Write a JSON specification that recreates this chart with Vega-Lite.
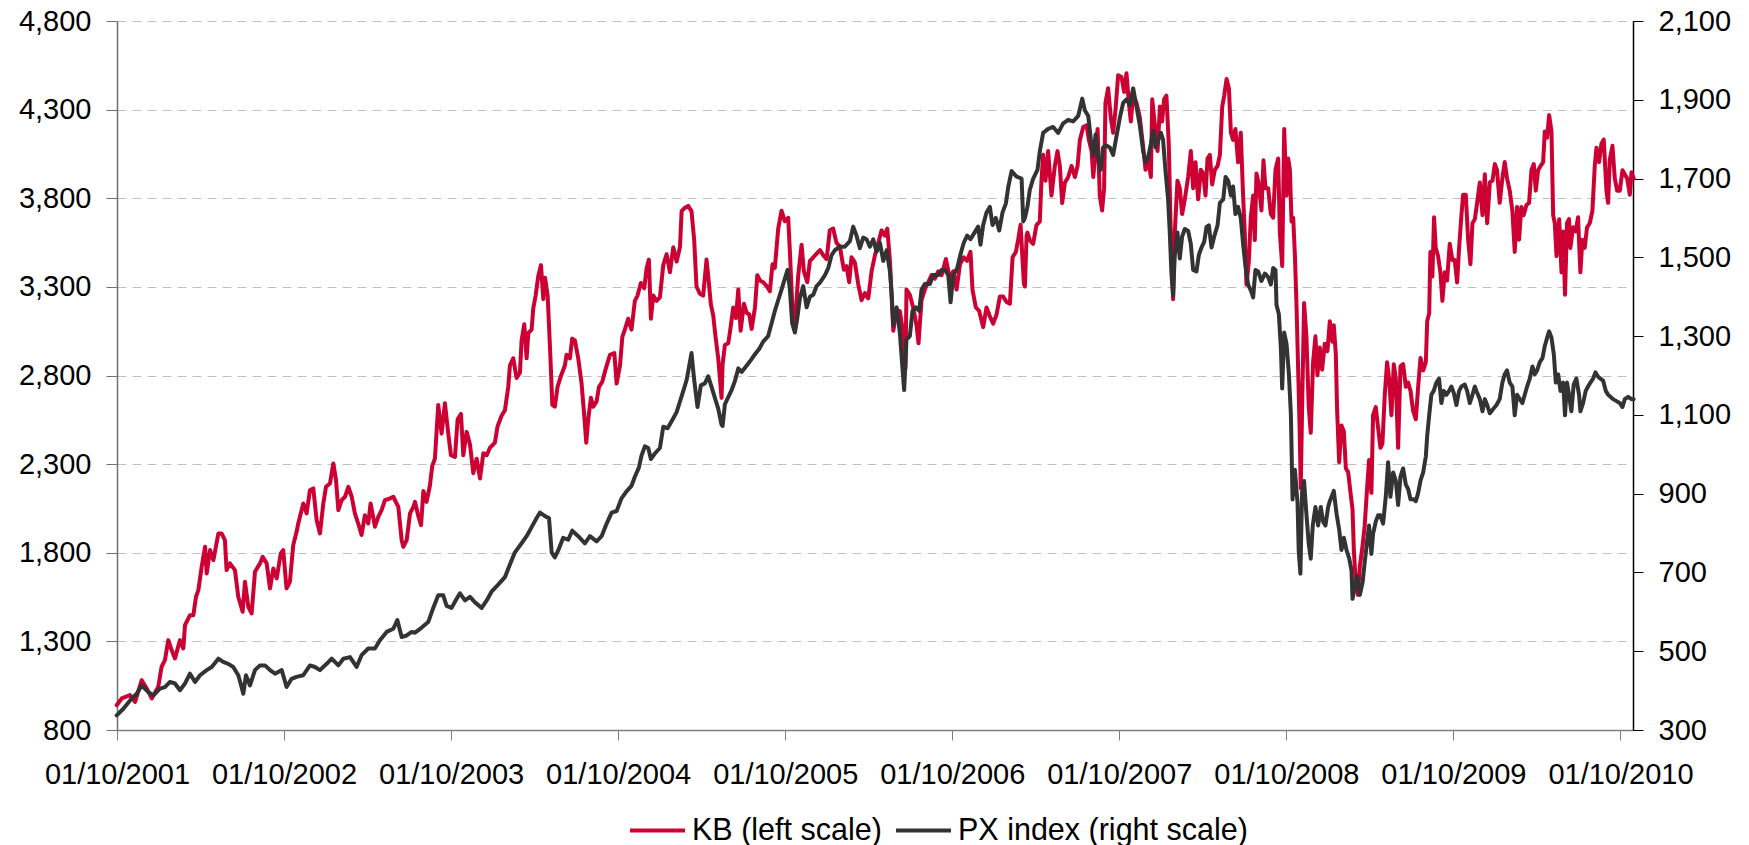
{
 "$schema": "https://vega.github.io/schema/vega-lite/v6.json",
 "width": 1516,
 "height": 709,
 "autosize": {"type": "none"},
 "padding": {"left": 117, "top": 21, "right": 116, "bottom": 115},
 "background": "white",
 "config": {
  "view": {"stroke": null},
  "font": "Liberation Sans",
  "axis": {"labelFont": "Liberation Sans", "labelColor": "#000000", "labelFontSize": 29},
  "legend": {"labelFont": "Liberation Sans", "labelColor": "#000000"}
 },
 "datasets": {
  "kb": [
   {"year":2001.748,"kb":940},{"year":2001.778,"kb":978},{"year":2001.828,"kb":997},{"year":2001.858,"kb":959},{"year":2001.898,"kb":1081},{"year":2001.928,"kb":1034},{"year":2001.958,"kb":978},{"year":2001.997,"kb":1044},{"year":2002.017,"kb":1157},{"year":2002.037,"kb":1194},{"year":2002.057,"kb":1307},{"year":2002.077,"kb":1251},{"year":2002.097,"kb":1204},{"year":2002.127,"kb":1307},{"year":2002.147,"kb":1260},{"year":2002.157,"kb":1392},{"year":2002.187,"kb":1448},{"year":2002.207,"kb":1448},{"year":2002.223,"kb":1552},{"year":2002.237,"kb":1589},{"year":2002.257,"kb":1721},{"year":2002.277,"kb":1834},{"year":2002.287,"kb":1683},{"year":2002.307,"kb":1815},{"year":2002.327,"kb":1758},{"year":2002.357,"kb":1909},{"year":2002.376,"kb":1909},{"year":2002.396,"kb":1871},{"year":2002.406,"kb":1702},{"year":2002.426,"kb":1740},{"year":2002.456,"kb":1702},{"year":2002.476,"kb":1552},{"year":2002.502,"kb":1467},{"year":2002.516,"kb":1636},{"year":2002.536,"kb":1495},{"year":2002.556,"kb":1458},{"year":2002.576,"kb":1693},{"year":2002.606,"kb":1740},{"year":2002.622,"kb":1777},{"year":2002.646,"kb":1740},{"year":2002.666,"kb":1599},{"year":2002.686,"kb":1711},{"year":2002.706,"kb":1655},{"year":2002.730,"kb":1796},{"year":2002.745,"kb":1815},{"year":2002.765,"kb":1599},{"year":2002.785,"kb":1636},{"year":2002.805,"kb":1843},{"year":2002.825,"kb":1918},{"year":2002.835,"kb":1965},{"year":2002.865,"kb":2078},{"year":2002.885,"kb":2022},{"year":2002.905,"kb":2153},{"year":2002.925,"kb":2163},{"year":2002.945,"kb":1984},{"year":2002.965,"kb":1909},{"year":2002.985,"kb":2078},{"year":2003.001,"kb":2172},{"year":2003.025,"kb":2191},{"year":2003.045,"kb":2304},{"year":2003.061,"kb":2210},{"year":2003.075,"kb":2041},{"year":2003.095,"kb":2097},{"year":2003.115,"kb":2116},{"year":2003.135,"kb":2172},{"year":2003.155,"kb":2116},{"year":2003.174,"kb":2022},{"year":2003.194,"kb":1965},{"year":2003.214,"kb":1900},{"year":2003.234,"kb":2012},{"year":2003.254,"kb":1965},{"year":2003.268,"kb":2078},{"year":2003.294,"kb":1947},{"year":2003.314,"kb":2003},{"year":2003.334,"kb":2041},{"year":2003.354,"kb":2097},{"year":2003.384,"kb":2106},{"year":2003.404,"kb":2116},{"year":2003.434,"kb":2059},{"year":2003.454,"kb":1871},{"year":2003.464,"kb":1834},{"year":2003.484,"kb":1871},{"year":2003.504,"kb":2022},{"year":2003.524,"kb":2059},
   {"year":2003.534,"kb":2087},{"year":2003.554,"kb":2006},{"year":2003.570,"kb":1956},{"year":2003.584,"kb":2148},{"year":2003.603,"kb":2087},{"year":2003.623,"kb":2178},{"year":2003.637,"kb":2290},{"year":2003.653,"kb":2330},{"year":2003.673,"kb":2634},{"year":2003.693,"kb":2472},{"year":2003.713,"kb":2644},{"year":2003.733,"kb":2472},{"year":2003.749,"kb":2350},{"year":2003.773,"kb":2340},{"year":2003.789,"kb":2553},{"year":2003.809,"kb":2583},{"year":2003.823,"kb":2350},{"year":2003.843,"kb":2482},{"year":2003.863,"kb":2411},{"year":2003.883,"kb":2249},{"year":2003.903,"kb":2330},{"year":2003.923,"kb":2219},{"year":2003.943,"kb":2361},{"year":2003.963,"kb":2350},{"year":2003.982,"kb":2391},{"year":2004.012,"kb":2421},{"year":2004.028,"kb":2512},{"year":2004.052,"kb":2573},{"year":2004.072,"kb":2603},{"year":2004.092,"kb":2735},{"year":2004.102,"kb":2856},{"year":2004.122,"kb":2897},{"year":2004.142,"kb":2786},{"year":2004.162,"kb":2816},{"year":2004.172,"kb":2998},{"year":2004.188,"kb":3089},{"year":2004.202,"kb":2897},{"year":2004.212,"kb":3039},{"year":2004.232,"kb":3059},{"year":2004.242,"kb":3180},{"year":2004.256,"kb":3251},{"year":2004.272,"kb":3362},{"year":2004.288,"kb":3423},{"year":2004.302,"kb":3231},{"year":2004.312,"kb":3352},{"year":2004.328,"kb":3251},{"year":2004.342,"kb":2958},{"year":2004.356,"kb":2634},{"year":2004.371,"kb":2624},{"year":2004.387,"kb":2735},{"year":2004.407,"kb":2796},{"year":2004.431,"kb":2856},{"year":2004.441,"kb":2917},{"year":2004.461,"kb":2897},{"year":2004.475,"kb":3008},{"year":2004.491,"kb":2998},{"year":2004.511,"kb":2897},{"year":2004.531,"kb":2755},{"year":2004.547,"kb":2573},{"year":2004.559,"kb":2421},{"year":2004.571,"kb":2553},{"year":2004.587,"kb":2674},{"year":2004.601,"kb":2624},{"year":2004.621,"kb":2654},{"year":2004.635,"kb":2735},{"year":2004.655,"kb":2765},{"year":2004.675,"kb":2836},{"year":2004.701,"kb":2917},{"year":2004.727,"kb":2927},{"year":2004.741,"kb":2755},{"year":2004.761,"kb":2856},{"year":2004.775,"kb":3018},{"year":2004.790,"kb":3059},{"year":2004.810,"kb":3120},{"year":2004.830,"kb":3059},{"year":2004.850,"kb":3221},{"year":2004.866,"kb":3251},{"year":2004.886,"kb":3322},{"year":2004.906,"kb":3292},{"year":2004.920,"kb":3403},{"year":2004.934,"kb":3454},{"year":2004.946,"kb":3120},{"year":2004.960,"kb":3251},{"year":2004.980,"kb":3221},{"year":2005.000,"kb":3241},{"year":2005.020,"kb":3423},{"year":2005.040,"kb":3484},{"year":2005.060,"kb":3383},{"year":2005.080,"kb":3524},{"year":2005.100,"kb":3443},{"year":2005.120,"kb":3524},{"year":2005.130,"kb":3727},{"year":2005.150,"kb":3747},{"year":2005.169,"kb":3757},{"year":2005.189,"kb":3727},{"year":2005.205,"kb":3565},{"year":2005.219,"kb":3302},{"year":2005.239,"kb":3261},{"year":2005.259,"kb":3251},{"year":2005.279,"kb":3454},{"year":2005.289,"kb":3362},{"year":2005.305,"kb":3201},{"year":2005.319,"kb":3140},{"year":2005.333,"kb":3018},{"year":2005.349,"kb":2897},{"year":2005.369,"kb":2674},
   {"year":2005.375,"kb":2861},{"year":2005.389,"kb":2972},{"year":2005.409,"kb":2982},{"year":2005.419,"kb":3043},{"year":2005.439,"kb":3184},{"year":2005.455,"kb":3124},{"year":2005.469,"kb":3285},{"year":2005.483,"kb":3053},{"year":2005.503,"kb":3205},{"year":2005.519,"kb":3154},{"year":2005.535,"kb":3144},{"year":2005.549,"kb":3063},{"year":2005.569,"kb":3184},{"year":2005.583,"kb":3366},{"year":2005.599,"kb":3336},{"year":2005.618,"kb":3326},{"year":2005.638,"kb":3306},{"year":2005.658,"kb":3275},{"year":2005.674,"kb":3427},{"year":2005.688,"kb":3407},{"year":2005.708,"kb":3629},{"year":2005.728,"kb":3730},{"year":2005.748,"kb":3670},{"year":2005.768,"kb":3690},{"year":2005.778,"kb":3498},{"year":2005.794,"kb":3164},{"year":2005.808,"kb":3083},{"year":2005.828,"kb":3366},{"year":2005.848,"kb":3538},{"year":2005.862,"kb":3387},{"year":2005.882,"kb":3326},{"year":2005.898,"kb":3447},{"year":2005.918,"kb":3467},{"year":2005.938,"kb":3488},{"year":2005.958,"kb":3508},{"year":2005.978,"kb":3478},{"year":2005.998,"kb":3457},{"year":2006.017,"kb":3619},{"year":2006.037,"kb":3629},{"year":2006.057,"kb":3548},{"year":2006.077,"kb":3528},{"year":2006.101,"kb":3397},{"year":2006.117,"kb":3417},{"year":2006.133,"kb":3326},{"year":2006.147,"kb":3467},{"year":2006.167,"kb":3437},{"year":2006.187,"kb":3316},{"year":2006.207,"kb":3225},{"year":2006.227,"kb":3265},{"year":2006.247,"kb":3235},{"year":2006.267,"kb":3387},{"year":2006.287,"kb":3478},{"year":2006.307,"kb":3548},{"year":2006.327,"kb":3619},{"year":2006.347,"kb":3589},{"year":2006.361,"kb":3629},{"year":2006.377,"kb":3447},{"year":2006.387,"kb":3245},{"year":2006.397,"kb":3053},{"year":2006.417,"kb":3164},{"year":2006.436,"kb":3164},{"year":2006.456,"kb":3043},{"year":2006.470,"kb":2840},{"year":2006.476,"kb":3285},{"year":2006.496,"kb":3255},{"year":2006.516,"kb":3184},{"year":2006.536,"kb":3083},{"year":2006.548,"kb":2982},{"year":2006.566,"kb":3225},{"year":2006.586,"kb":3285},{"year":2006.606,"kb":3326},{"year":2006.626,"kb":3366},{"year":2006.646,"kb":3346},{"year":2006.666,"kb":3387},{"year":2006.686,"kb":3366},{"year":2006.712,"kb":3457},{"year":2006.736,"kb":3346},{"year":2006.756,"kb":3387},{"year":2006.776,"kb":3285},{"year":2006.796,"kb":3427},{"year":2006.819,"kb":3467},{"year":2006.839,"kb":3447},{"year":2006.859,"kb":3498},{"year":2006.871,"kb":3285},{"year":2006.891,"kb":3184},{"year":2006.911,"kb":3164},{"year":2006.935,"kb":3073},{"year":2006.955,"kb":3184},{"year":2006.975,"kb":3134},{"year":2006.995,"kb":3093},{"year":2007.015,"kb":3144},{"year":2007.035,"kb":3245},{"year":2007.055,"kb":3245},{"year":2007.075,"kb":3215},{"year":2007.095,"kb":3205},{"year":2007.111,"kb":3467},{"year":2007.131,"kb":3498},{"year":2007.145,"kb":3569},{"year":2007.159,"kb":3650},{"year":2007.171,"kb":3447},{"year":2007.179,"kb":3316},{"year":2007.185,"kb":3303},{"year":2007.195,"kb":3589},
   {"year":2007.200,"kb":3606},{"year":2007.214,"kb":3564},{"year":2007.234,"kb":3543},{"year":2007.254,"kb":3648},{"year":2007.274,"kb":3669},{"year":2007.284,"kb":3899},{"year":2007.294,"kb":4045},{"year":2007.308,"kb":3899},{"year":2007.324,"kb":4066},{"year":2007.344,"kb":3815},{"year":2007.364,"kb":3982},{"year":2007.380,"kb":4066},{"year":2007.394,"kb":3982},{"year":2007.408,"kb":3773},{"year":2007.424,"kb":3888},{"year":2007.444,"kb":3920},{"year":2007.464,"kb":3982},{"year":2007.484,"kb":3920},{"year":2007.500,"kb":3982},{"year":2007.514,"kb":4129},{"year":2007.534,"kb":4202},{"year":2007.554,"kb":4212},{"year":2007.568,"kb":4129},{"year":2007.584,"kb":4066},{"year":2007.594,"kb":3920},{"year":2007.608,"kb":4066},{"year":2007.620,"kb":4191},{"year":2007.633,"kb":3815},{"year":2007.647,"kb":3731},{"year":2007.659,"kb":3857},{"year":2007.667,"kb":4338},{"year":2007.683,"kb":4421},{"year":2007.699,"kb":4254},{"year":2007.713,"kb":4170},{"year":2007.727,"kb":4296},{"year":2007.743,"kb":4494},{"year":2007.763,"kb":4484},{"year":2007.779,"kb":4400},{"year":2007.793,"kb":4505},{"year":2007.807,"kb":4338},{"year":2007.819,"kb":4233},{"year":2007.833,"kb":4379},{"year":2007.853,"kb":4338},{"year":2007.873,"kb":4254},{"year":2007.893,"kb":4087},{"year":2007.907,"kb":3961},{"year":2007.923,"kb":4024},{"year":2007.939,"kb":3920},{"year":2007.947,"kb":4358},{"year":2007.963,"kb":4212},{"year":2007.979,"kb":4066},{"year":2007.993,"kb":4317},{"year":2008.006,"kb":4233},{"year":2008.018,"kb":4358},{"year":2008.032,"kb":4379},{"year":2008.046,"kb":4108},{"year":2008.058,"kb":3606},{"year":2008.072,"kb":3230},{"year":2008.082,"kb":3606},{"year":2008.098,"kb":3899},{"year":2008.112,"kb":3857},{"year":2008.126,"kb":3711},{"year":2008.142,"kb":3794},{"year":2008.162,"kb":3920},{"year":2008.178,"kb":4066},{"year":2008.192,"kb":3857},{"year":2008.206,"kb":4003},{"year":2008.222,"kb":3794},{"year":2008.238,"kb":3961},{"year":2008.252,"kb":3940},{"year":2008.266,"kb":3815},{"year":2008.278,"kb":4024},{"year":2008.292,"kb":4045},{"year":2008.306,"kb":3878},{"year":2008.322,"kb":3961},{"year":2008.338,"kb":3982},{"year":2008.352,"kb":4045},{"year":2008.366,"kb":4317},{"year":2008.378,"kb":4379},{"year":2008.392,"kb":4473},{"year":2008.406,"kb":4421},{"year":2008.418,"kb":4170},{"year":2008.431,"kb":4129},{"year":2008.445,"kb":4191},{"year":2008.461,"kb":4003},{"year":2008.477,"kb":4170},{"year":2008.491,"kb":3815},{"year":2008.501,"kb":3606},{"year":2008.511,"kb":3313},{"year":2008.525,"kb":3439},{"year":2008.537,"kb":3690},{"year":2008.551,"kb":3815},{"year":2008.561,"kb":3564},{"year":2008.571,"kb":3940},{"year":2008.585,"kb":3878},{"year":2008.601,"kb":3731},{"year":2008.613,"kb":4014},{"year":2008.625,"kb":3857},{"year":2008.641,"kb":3857},{"year":2008.657,"kb":3711},{"year":2008.671,"kb":3690},{"year":2008.685,"kb":3961},{"year":2008.701,"kb":4024},{"year":2008.711,"kb":3606},{"year":2008.725,"kb":3418},{"year":2008.737,"kb":4191},{"year":2008.751,"kb":3815},{"year":2008.761,"kb":4024},{"year":2008.771,"kb":3961},{"year":2008.781,"kb":3669},{"year":2008.791,"kb":3690},{"year":2008.801,"kb":3481},{"year":2008.811,"kb":3188},{"year":2008.820,"kb":2854},{"year":2008.830,"kb":2477},{"year":2008.836,"kb":2164},{"year":2008.844,"kb":2603},{"year":2008.856,"kb":3209},{"year":2008.870,"kb":3021},{"year":2008.884,"kb":2624},{"year":2008.896,"kb":2477},{"year":2008.910,"kb":2875},{"year":2008.924,"kb":3021},{"year":2008.936,"kb":2801},{"year":2008.950,"kb":2958},{"year":2008.964,"kb":2833},{"year":2008.980,"kb":2979},{"year":2008.996,"kb":2937},
   {"year":2009.010,"kb":3106},{"year":2009.026,"kb":2991},{"year":2009.034,"kb":3083},{"year":2009.046,"kb":2922},{"year":2009.054,"kb":2599},{"year":2009.066,"kb":2311},{"year":2009.080,"kb":2518},{"year":2009.094,"kb":2484},{"year":2009.106,"kb":2277},{"year":2009.120,"kb":2254},{"year":2009.134,"kb":2138},{"year":2009.146,"kb":2046},{"year":2009.154,"kb":1816},{"year":2009.166,"kb":1620},{"year":2009.178,"kb":1563},{"year":2009.190,"kb":1724},{"year":2009.206,"kb":1839},{"year":2009.219,"kb":1954},{"year":2009.233,"kb":2161},{"year":2009.245,"kb":2323},{"year":2009.259,"kb":2138},{"year":2009.269,"kb":2576},{"year":2009.285,"kb":2622},{"year":2009.299,"kb":2507},{"year":2009.313,"kb":2392},{"year":2009.325,"kb":2415},{"year":2009.339,"kb":2691},{"year":2009.353,"kb":2875},{"year":2009.365,"kb":2783},{"year":2009.379,"kb":2576},{"year":2009.393,"kb":2864},{"year":2009.405,"kb":2783},{"year":2009.419,"kb":2392},{"year":2009.433,"kb":2852},{"year":2009.449,"kb":2864},{"year":2009.465,"kb":2737},{"year":2009.479,"kb":2760},{"year":2009.493,"kb":2714},{"year":2009.509,"kb":2599},{"year":2009.525,"kb":2553},{"year":2009.539,"kb":2737},{"year":2009.553,"kb":2899},{"year":2009.569,"kb":2829},{"year":2009.585,"kb":2875},{"year":2009.593,"kb":3106},{"year":2009.605,"kb":3152},{"year":2009.612,"kb":3497},{"year":2009.624,"kb":3359},{"year":2009.634,"kb":3693},{"year":2009.644,"kb":3520},{"year":2009.658,"kb":3474},{"year":2009.672,"kb":3382},{"year":2009.684,"kb":3221},{"year":2009.698,"kb":3382},{"year":2009.712,"kb":3336},{"year":2009.728,"kb":3543},{"year":2009.744,"kb":3451},{"year":2009.758,"kb":3451},{"year":2009.772,"kb":3325},{"year":2009.784,"kb":3520},{"year":2009.798,"kb":3705},{"year":2009.808,"kb":3820},{"year":2009.824,"kb":3820},{"year":2009.838,"kb":3566},{"year":2009.852,"kb":3428},{"year":2009.864,"kb":3659},{"year":2009.878,"kb":3682},{"year":2009.892,"kb":3774},{"year":2009.908,"kb":3889},{"year":2009.924,"kb":3705},{"year":2009.938,"kb":3935},{"year":2009.952,"kb":3659},{"year":2009.968,"kb":3889},{"year":2009.984,"kb":3900},{"year":2009.998,"kb":3993},{"year":2010.011,"kb":3958},{"year":2010.027,"kb":3774},{"year":2010.043,"kb":3912},{"year":2010.057,"kb":4004},{"year":2010.071,"kb":3912},{"year":2010.087,"kb":3843},{"year":2010.103,"kb":3728},{"year":2010.117,"kb":3497},{"year":2010.131,"kb":3751},{"year":2010.143,"kb":3566},{"year":2010.157,"kb":3751},{"year":2010.171,"kb":3705},{"year":2010.187,"kb":3762},{"year":2010.203,"kb":3774},{"year":2010.217,"kb":3958},{"year":2010.231,"kb":3993},{"year":2010.243,"kb":3843},{"year":2010.257,"kb":3958},{"year":2010.271,"kb":3981},{"year":2010.287,"kb":4004},{"year":2010.297,"kb":4177},{"year":2010.311,"kb":4142},{"year":2010.323,"kb":4269},{"year":2010.337,"kb":4177},{"year":2010.347,"kb":3705},{"year":2010.357,"kb":3659},{"year":2010.367,"kb":3474},{"year":2010.383,"kb":3682},{"year":2010.397,"kb":3382},{"year":2010.407,"kb":3613},{"year":2010.418,"kb":3256},{"year":2010.430,"kb":3659},{"year":2010.442,"kb":3682},{"year":2010.450,"kb":3520},{"year":2010.466,"kb":3636},{"year":2010.482,"kb":3613},{"year":2010.496,"kb":3693},{"year":2010.510,"kb":3382},{"year":2010.522,"kb":3566},{"year":2010.536,"kb":3520},{"year":2010.550,"kb":3636},{"year":2010.566,"kb":3659},{"year":2010.582,"kb":3728},{"year":2010.596,"kb":3981},{"year":2010.606,"kb":4085},{"year":2010.622,"kb":4004},{"year":2010.636,"kb":4108},{"year":2010.650,"kb":4131},{"year":2010.666,"kb":3843},{"year":2010.676,"kb":3774},{"year":2010.686,"kb":4016},{"year":2010.702,"kb":4096},{"year":2010.716,"kb":3912},{"year":2010.730,"kb":3843},{"year":2010.746,"kb":3843},{"year":2010.762,"kb":3958},{"year":2010.776,"kb":3935},{"year":2010.790,"kb":3912},{"year":2010.806,"kb":3820},{"year":2010.816,"kb":3947},{"year":2010.829,"kb":3912}
  ],
  "px": [
   {"year":2001.748,"px":337},{"year":2001.788,"px":354},{"year":2001.828,"px":375},{"year":2001.868,"px":392},{"year":2001.898,"px":413},{"year":2001.938,"px":396},{"year":2001.968,"px":388},{"year":2002.007,"px":405},{"year":2002.037,"px":409},{"year":2002.067,"px":422},{"year":2002.097,"px":418},{"year":2002.127,"px":401},{"year":2002.157,"px":418},{"year":2002.187,"px":443},{"year":2002.217,"px":422},{"year":2002.247,"px":439},{"year":2002.287,"px":452},{"year":2002.317,"px":460},{"year":2002.357,"px":481},{"year":2002.386,"px":473},{"year":2002.416,"px":468},{"year":2002.446,"px":460},{"year":2002.476,"px":439},{"year":2002.490,"px":418},{"year":2002.506,"px":392},{"year":2002.522,"px":439},{"year":2002.546,"px":413},{"year":2002.576,"px":452},{"year":2002.606,"px":464},{"year":2002.636,"px":464},{"year":2002.666,"px":452},{"year":2002.696,"px":443},{"year":2002.736,"px":452},{"year":2002.765,"px":409},{"year":2002.795,"px":430},{"year":2002.825,"px":435},{"year":2002.865,"px":439},{"year":2002.905,"px":464},{"year":2002.935,"px":460},{"year":2002.965,"px":452},{"year":2003.005,"px":468},{"year":2003.035,"px":481},{"year":2003.075,"px":464},{"year":2003.105,"px":481},{"year":2003.145,"px":485},{"year":2003.184,"px":460},{"year":2003.214,"px":490},{"year":2003.254,"px":507},{"year":2003.294,"px":507},{"year":2003.324,"px":528},{"year":2003.364,"px":549},{"year":2003.404,"px":557},{"year":2003.428,"px":579},{"year":2003.454,"px":536},{"year":2003.484,"px":540},{"year":2003.514,"px":549},
   {"year":2003.534,"px":547},{"year":2003.574,"px":560},{"year":2003.613,"px":574},{"year":2003.643,"px":610},{"year":2003.673,"px":642},{"year":2003.703,"px":642},{"year":2003.723,"px":615},{"year":2003.753,"px":610},{"year":2003.783,"px":633},{"year":2003.803,"px":647},{"year":2003.833,"px":629},{"year":2003.863,"px":638},{"year":2003.893,"px":624},{"year":2003.933,"px":610},{"year":2003.963,"px":629},{"year":2003.992,"px":651},{"year":2004.032,"px":669},{"year":2004.072,"px":688},{"year":2004.102,"px":720},{"year":2004.132,"px":751},{"year":2004.172,"px":774},{"year":2004.202,"px":792},{"year":2004.232,"px":815},{"year":2004.262,"px":838},{"year":2004.282,"px":852},{"year":2004.312,"px":843},{"year":2004.336,"px":838},{"year":2004.352,"px":751},{"year":2004.371,"px":738},{"year":2004.391,"px":756},{"year":2004.421,"px":788},{"year":2004.451,"px":783},{"year":2004.475,"px":806},{"year":2004.511,"px":792},{"year":2004.551,"px":774},{"year":2004.581,"px":792},{"year":2004.621,"px":779},{"year":2004.651,"px":792},{"year":2004.681,"px":824},{"year":2004.711,"px":852},{"year":2004.741,"px":856},{"year":2004.770,"px":888},{"year":2004.800,"px":906},{"year":2004.830,"px":920},{"year":2004.850,"px":943},{"year":2004.874,"px":966},{"year":2004.890,"px":997},{"year":2004.910,"px":1020},{"year":2004.930,"px":1016},{"year":2004.946,"px":988},{"year":2004.970,"px":1002},{"year":2005.000,"px":1016},{"year":2005.020,"px":1070},{"year":2005.046,"px":1066},{"year":2005.070,"px":1084},{"year":2005.100,"px":1107},{"year":2005.120,"px":1134},{"year":2005.140,"px":1161},{"year":2005.160,"px":1189},{"year":2005.174,"px":1221},{"year":2005.189,"px":1257},{"year":2005.205,"px":1189},{"year":2005.225,"px":1120},{"year":2005.245,"px":1175},{"year":2005.269,"px":1180},{"year":2005.289,"px":1198},{"year":2005.309,"px":1171},{"year":2005.329,"px":1143},{"year":2005.349,"px":1116},{"year":2005.369,"px":1075},
   {"year":2005.375,"px":1072},{"year":2005.389,"px":1127},{"year":2005.409,"px":1145},{"year":2005.429,"px":1163},{"year":2005.449,"px":1186},{"year":2005.469,"px":1218},{"year":2005.489,"px":1209},{"year":2005.515,"px":1223},{"year":2005.539,"px":1236},{"year":2005.569,"px":1254},{"year":2005.595,"px":1268},{"year":2005.618,"px":1286},{"year":2005.648,"px":1300},{"year":2005.668,"px":1332},{"year":2005.688,"px":1364},{"year":2005.708,"px":1391},{"year":2005.728,"px":1418},{"year":2005.748,"px":1446},{"year":2005.764,"px":1468},{"year":2005.778,"px":1418},{"year":2005.792,"px":1332},{"year":2005.808,"px":1309},{"year":2005.822,"px":1345},{"year":2005.838,"px":1396},{"year":2005.858,"px":1427},{"year":2005.878,"px":1373},{"year":2005.898,"px":1400},{"year":2005.918,"px":1405},{"year":2005.938,"px":1427},{"year":2005.958,"px":1436},{"year":2005.988,"px":1455},{"year":2006.008,"px":1473},{"year":2006.027,"px":1505},{"year":2006.047,"px":1518},{"year":2006.077,"px":1527},{"year":2006.107,"px":1527},{"year":2006.137,"px":1541},{"year":2006.157,"px":1578},{"year":2006.177,"px":1555},{"year":2006.197,"px":1523},{"year":2006.217,"px":1550},{"year":2006.237,"px":1546},{"year":2006.257,"px":1527},{"year":2006.277,"px":1546},{"year":2006.297,"px":1514},{"year":2006.317,"px":1537},{"year":2006.337,"px":1491},{"year":2006.357,"px":1518},{"year":2006.377,"px":1464},{"year":2006.387,"px":1409},{"year":2006.397,"px":1327},{"year":2006.417,"px":1373},{"year":2006.436,"px":1309},{"year":2006.452,"px":1218},{"year":2006.462,"px":1163},{"year":2006.476,"px":1291},{"year":2006.496,"px":1300},{"year":2006.512,"px":1364},{"year":2006.532,"px":1373},{"year":2006.552,"px":1364},{"year":2006.566,"px":1418},{"year":2006.586,"px":1432},{"year":2006.616,"px":1432},{"year":2006.636,"px":1455},{"year":2006.666,"px":1455},{"year":2006.686,"px":1468},{"year":2006.706,"px":1468},{"year":2006.726,"px":1455},{"year":2006.740,"px":1386},{"year":2006.756,"px":1455},{"year":2006.780,"px":1473},{"year":2006.800,"px":1509},{"year":2006.819,"px":1537},{"year":2006.839,"px":1555},{"year":2006.859,"px":1546},{"year":2006.885,"px":1564},{"year":2006.905,"px":1578},{"year":2006.919,"px":1532},{"year":2006.935,"px":1582},{"year":2006.955,"px":1614},{"year":2006.975,"px":1628},{"year":2006.991,"px":1582},{"year":2007.011,"px":1600},{"year":2007.031,"px":1568},{"year":2007.051,"px":1614},{"year":2007.071,"px":1637},{"year":2007.085,"px":1678},{"year":2007.105,"px":1719},{"year":2007.135,"px":1705},{"year":2007.165,"px":1700},{"year":2007.175,"px":1591},
   {"year":2007.185,"px":1600},{"year":2007.200,"px":1628},{"year":2007.214,"px":1671},{"year":2007.234,"px":1699},{"year":2007.260,"px":1722},{"year":2007.274,"px":1769},{"year":2007.294,"px":1816},{"year":2007.324,"px":1826},{"year":2007.354,"px":1831},{"year":2007.384,"px":1816},{"year":2007.414,"px":1840},{"year":2007.444,"px":1849},{"year":2007.474,"px":1845},{"year":2007.504,"px":1859},{"year":2007.528,"px":1903},{"year":2007.544,"px":1873},{"year":2007.564,"px":1859},{"year":2007.580,"px":1798},{"year":2007.594,"px":1760},{"year":2007.608,"px":1812},{"year":2007.623,"px":1755},{"year":2007.639,"px":1722},{"year":2007.653,"px":1779},{"year":2007.673,"px":1784},{"year":2007.693,"px":1779},{"year":2007.713,"px":1760},{"year":2007.733,"px":1807},{"year":2007.753,"px":1854},{"year":2007.773,"px":1892},{"year":2007.793,"px":1901},{"year":2007.813,"px":1887},{"year":2007.833,"px":1929},{"year":2007.853,"px":1882},{"year":2007.873,"px":1835},{"year":2007.893,"px":1769},{"year":2007.907,"px":1741},{"year":2007.923,"px":1755},{"year":2007.939,"px":1788},{"year":2007.953,"px":1821},{"year":2007.967,"px":1779},{"year":2007.983,"px":1798},{"year":2007.999,"px":1816},{"year":2008.012,"px":1798},{"year":2008.026,"px":1722},{"year":2008.042,"px":1647},{"year":2008.052,"px":1563},{"year":2008.062,"px":1459},{"year":2008.072,"px":1403},{"year":2008.082,"px":1506},{"year":2008.098,"px":1563},{"year":2008.112,"px":1497},{"year":2008.126,"px":1553},{"year":2008.142,"px":1572},{"year":2008.162,"px":1567},{"year":2008.178,"px":1534},{"year":2008.192,"px":1468},{"year":2008.212,"px":1464},{"year":2008.226,"px":1506},{"year":2008.242,"px":1525},{"year":2008.258,"px":1539},{"year":2008.272,"px":1577},{"year":2008.286,"px":1581},{"year":2008.302,"px":1525},{"year":2008.318,"px":1553},{"year":2008.338,"px":1581},{"year":2008.352,"px":1638},{"year":2008.372,"px":1647},{"year":2008.386,"px":1704},{"year":2008.402,"px":1694},{"year":2008.418,"px":1657},{"year":2008.431,"px":1680},{"year":2008.445,"px":1610},{"year":2008.461,"px":1628},{"year":2008.477,"px":1600},{"year":2008.491,"px":1534},{"year":2008.505,"px":1478},{"year":2008.521,"px":1431},{"year":2008.541,"px":1412},{"year":2008.551,"px":1398},{"year":2008.565,"px":1468},{"year":2008.581,"px":1464},{"year":2008.601,"px":1440},{"year":2008.621,"px":1459},{"year":2008.641,"px":1450},{"year":2008.657,"px":1431},{"year":2008.671,"px":1473},{"year":2008.685,"px":1468},{"year":2008.691,"px":1379},{"year":2008.705,"px":1356},{"year":2008.717,"px":1271},{"year":2008.725,"px":1167},{"year":2008.737,"px":1309},{"year":2008.751,"px":1280},{"year":2008.765,"px":1205},{"year":2008.777,"px":1102},{"year":2008.787,"px":885},{"year":2008.801,"px":961},{"year":2008.817,"px":876},{"year":2008.824,"px":754},{"year":2008.834,"px":697},{"year":2008.844,"px":904},{"year":2008.856,"px":932},{"year":2008.870,"px":848},{"year":2008.884,"px":772},{"year":2008.896,"px":735},{"year":2008.908,"px":819},{"year":2008.924,"px":866},{"year":2008.940,"px":819},{"year":2008.956,"px":866},{"year":2008.970,"px":829},{"year":2008.984,"px":819},{"year":2009.000,"px":866},
   {"year":2009.010,"px":881},{"year":2009.034,"px":907},{"year":2009.050,"px":850},{"year":2009.066,"px":809},{"year":2009.080,"px":757},{"year":2009.094,"px":788},{"year":2009.110,"px":757},{"year":2009.126,"px":736},{"year":2009.140,"px":705},{"year":2009.146,"px":633},{"year":2009.160,"px":664},{"year":2009.174,"px":690},{"year":2009.190,"px":643},{"year":2009.206,"px":674},{"year":2009.219,"px":726},{"year":2009.233,"px":778},{"year":2009.245,"px":819},{"year":2009.259,"px":747},{"year":2009.269,"px":798},{"year":2009.285,"px":829},{"year":2009.299,"px":845},{"year":2009.313,"px":845},{"year":2009.329,"px":824},{"year":2009.345,"px":892},{"year":2009.359,"px":980},{"year":2009.373,"px":892},{"year":2009.389,"px":954},{"year":2009.405,"px":933},{"year":2009.419,"px":871},{"year":2009.433,"px":943},{"year":2009.449,"px":964},{"year":2009.465,"px":923},{"year":2009.479,"px":912},{"year":2009.493,"px":886},{"year":2009.509,"px":886},{"year":2009.525,"px":881},{"year":2009.539,"px":902},{"year":2009.553,"px":933},{"year":2009.569,"px":954},{"year":2009.585,"px":995},{"year":2009.593,"px":1047},{"year":2009.605,"px":1099},{"year":2009.618,"px":1151},{"year":2009.632,"px":1161},{"year":2009.648,"px":1182},{"year":2009.664,"px":1192},{"year":2009.678,"px":1130},{"year":2009.692,"px":1161},{"year":2009.708,"px":1151},{"year":2009.724,"px":1161},{"year":2009.738,"px":1172},{"year":2009.752,"px":1156},{"year":2009.768,"px":1125},{"year":2009.784,"px":1161},{"year":2009.798,"px":1172},{"year":2009.818,"px":1177},{"year":2009.832,"px":1161},{"year":2009.848,"px":1130},{"year":2009.864,"px":1151},{"year":2009.878,"px":1172},{"year":2009.892,"px":1156},{"year":2009.908,"px":1140},{"year":2009.924,"px":1109},{"year":2009.938,"px":1140},{"year":2009.952,"px":1125},{"year":2009.968,"px":1104},{"year":2009.988,"px":1115},{"year":2010.008,"px":1125},{"year":2010.027,"px":1140},{"year":2010.043,"px":1182},{"year":2010.057,"px":1203},{"year":2010.071,"px":1213},{"year":2010.087,"px":1182},{"year":2010.103,"px":1172},{"year":2010.117,"px":1099},{"year":2010.131,"px":1151},{"year":2010.147,"px":1140},{"year":2010.163,"px":1130},{"year":2010.177,"px":1151},{"year":2010.191,"px":1172},{"year":2010.207,"px":1192},{"year":2010.223,"px":1223},{"year":2010.237,"px":1203},{"year":2010.251,"px":1213},{"year":2010.267,"px":1234},{"year":2010.283,"px":1244},{"year":2010.297,"px":1275},{"year":2010.311,"px":1296},{"year":2010.323,"px":1312},{"year":2010.337,"px":1296},{"year":2010.351,"px":1254},{"year":2010.363,"px":1182},{"year":2010.377,"px":1203},{"year":2010.391,"px":1161},{"year":2010.407,"px":1182},{"year":2010.418,"px":1099},{"year":2010.430,"px":1182},{"year":2010.442,"px":1151},{"year":2010.456,"px":1109},{"year":2010.470,"px":1177},{"year":2010.486,"px":1192},{"year":2010.502,"px":1151},{"year":2010.510,"px":1109},{"year":2010.526,"px":1130},{"year":2010.542,"px":1161},{"year":2010.556,"px":1172},{"year":2010.570,"px":1182},{"year":2010.586,"px":1192},{"year":2010.600,"px":1208},{"year":2010.616,"px":1197},{"year":2010.630,"px":1192},{"year":2010.646,"px":1187},{"year":2010.662,"px":1161},{"year":2010.676,"px":1151},{"year":2010.690,"px":1146},{"year":2010.706,"px":1140},{"year":2010.726,"px":1135},{"year":2010.746,"px":1130},{"year":2010.762,"px":1120},{"year":2010.776,"px":1140},{"year":2010.796,"px":1146},{"year":2010.816,"px":1140},{"year":2010.829,"px":1140}
  ]
 },
 "layer": [
  {
   "data": {"name": "kb"},
   "mark": {"type": "line", "strokeWidth": 4, "strokeJoin": "round", "strokeCap": "round"},
   "encoding": {
    "x": {
     "field": "year", "type": "quantitative",
     "scale": {"domain": [2001.75, 2010.825], "nice": false, "zero": false},
     "axis": {
      "title": null, "grid": false,
      "values": [2001.75, 2002.75, 2003.75, 2004.75, 2005.75, 2006.75, 2007.75, 2008.75, 2009.75, 2010.75],
      "labelExpr": "'01/10/' + floor(datum.value)",
      "domainColor": "#808080", "domainWidth": 1.5, "tickColor": "#808080", "tickSize": 10, "tickWidth": 1,
      "labelPadding": 20, "labelFontSize": 29, "labelFlush": false, "labelOverlap": false
     }
    },
    "y": {
     "field": "kb", "type": "quantitative",
     "scale": {"domain": [800, 4800], "nice": false, "zero": false},
     "axis": {
      "orient": "left", "title": null,
      "values": [800, 1300, 1800, 2300, 2800, 3300, 3800, 4300, 4800],
      "format": ",d",
      "grid": true, "gridDash": [9, 6], "gridColor": "#c0c0c0", "gridWidth": 1,
      "domainColor": "#707070", "domainWidth": 1.5, "tickColor": "#707070", "tickSize": 11,
      "labelPadding": 15, "labelFontSize": 29
     }
    },
    "color": {
     "datum": "KB (left scale)", "type": "nominal",
     "scale": {"domain": ["KB (left scale)", "PX index (right scale)"], "range": ["#cc0033", "#333333"]},
     "legend": {
      "orient": "none", "legendX": 511, "legendY": 780, "direction": "horizontal",
      "title": null, "padding": 0,
      "labelFontSize": 30.5, "labelLimit": 600, "labelOffset": 5, "columnPadding": 6,
      "symbolType": "stroke", "symbolSize": 3025, "symbolStrokeWidth": 4
     }
    }
   }
  },
  {
   "data": {"name": "px"},
   "mark": {"type": "line", "strokeWidth": 4, "strokeJoin": "round", "strokeCap": "round"},
   "encoding": {
    "x": {"field": "year", "type": "quantitative"},
    "y": {
     "field": "px", "type": "quantitative",
     "scale": {"domain": [300, 2100], "nice": false, "zero": false},
     "axis": {
      "orient": "right", "title": null,
      "values": [300, 500, 700, 900, 1100, 1300, 1500, 1700, 1900, 2100],
      "format": ",d", "grid": false,
      "domainColor": "#000000", "domainWidth": 1.5, "tickColor": "#000000", "tickSize": 10,
      "labelPadding": 15, "labelFontSize": 29
     }
    },
    "color": {"datum": "PX index (right scale)", "type": "nominal"}
   }
  }
 ],
 "resolve": {"scale": {"y": "independent"}, "axis": {"y": "independent"}}
}
